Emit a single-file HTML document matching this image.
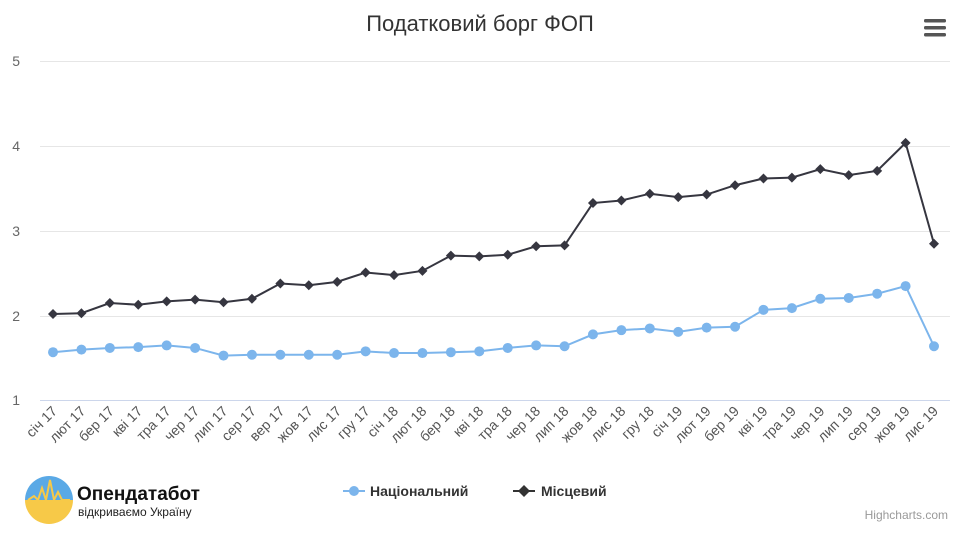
<!DOCTYPE html>
<html><head><meta charset="utf-8"><style>
body{margin:0;background:#fff;width:960px;height:533px;overflow:hidden;font-family:"Liberation Sans",sans-serif}
</style></head><body>
<svg width="960" height="533" xmlns="http://www.w3.org/2000/svg" font-family="Liberation Sans, sans-serif">
<text x="480" y="31" text-anchor="middle" font-size="22" fill="#333">Податковий борг ФОП</text>
<g fill="#555"><rect x="924" y="19" width="22" height="3.5" rx="1.5"/><rect x="924" y="26" width="22" height="3.5" rx="1.5"/><rect x="924" y="33" width="22" height="3.5" rx="1.5"/></g>
<g stroke="#e6e6e6" stroke-width="1">
<line x1="40" x2="950" y1="61.5" y2="61.5"/><line x1="40" x2="950" y1="146.5" y2="146.5"/><line x1="40" x2="950" y1="231.5" y2="231.5"/><line x1="40" x2="950" y1="316.5" y2="316.5"/>
</g>
<line x1="40" x2="950" y1="400.5" y2="400.5" stroke="#ccd6eb"/>
<g font-size="14" fill="#666" text-anchor="end">
<text x="20" y="66">5</text><text x="20" y="151">4</text><text x="20" y="236">3</text><text x="20" y="321">2</text><text x="20" y="405">1</text>
</g>
<g id="chart"></g>
<g font-size="14" font-weight="bold" fill="#333">
<line x1="343" x2="365" y1="491" y2="491" stroke="#7cb5ec" stroke-width="2"/><circle cx="354" cy="491" r="5" fill="#7cb5ec"/>
<text x="370" y="496">Національний</text>
<line x1="513" x2="535" y1="491" y2="491" stroke="#333" stroke-width="2"/><path d="M524 485 L530 491 L524 497 L518 491Z" fill="#333"/>
<text x="541" y="496">Місцевий</text>
</g>
<text x="948" y="519" text-anchor="end" font-size="12" fill="#999">Highcharts.com</text>
<g>
<path d="M25 500 A24 24 0 0 1 73 500 Z" fill="#5aa9e6"/>
<path d="M25 500 A24 24 0 0 0 73 500 Z" fill="#f7c948"/>
<path d="M28 500 L34 496 L38 500 L42 488 L46 500 L50 480 L54 500 L58 492 L62 500 L70 500" stroke="#f7c948" stroke-width="2" fill="none"/>
<text x="77" y="500" font-size="19" font-weight="bold" fill="#111">Опендатабот</text>
<text x="78" y="516" font-size="12" fill="#222">відкриваємо Україну</text>
</g>
</svg>
<script>
var d=[2.02,2.03,2.15,2.13,2.17,2.19,2.16,2.2,2.38,2.36,2.4,2.51,2.48,2.53,2.71,2.7,2.72,2.82,2.83,3.33,3.36,3.44,3.4,3.43,3.54,3.62,3.63,3.73,3.66,3.71,4.04,2.85];
var l=[1.57,1.6,1.62,1.63,1.65,1.62,1.53,1.54,1.54,1.54,1.54,1.58,1.56,1.56,1.57,1.58,1.62,1.65,1.64,1.78,1.83,1.85,1.81,1.86,1.87,2.07,2.09,2.2,2.21,2.26,2.35,1.64];
var lab=["січ 17","лют 17","бер 17","кві 17","тра 17","чер 17","лип 17","сер 17","вер 17","жов 17","лис 17","гру 17","січ 18","лют 18","бер 18","кві 18","тра 18","чер 18","лип 18","жов 18","лис 18","гру 18","січ 19","лют 19","бер 19","кві 19","тра 19","чер 19","лип 19","сер 19","жов 19","лис 19"];
function X(i){return 53+i*(881/31)}function Y(v){return 400.5-(v-1)*84.75}
var s="";
function line(a,c){return '<polyline fill="none" stroke="'+c+'" stroke-width="2" points="'+a.map(function(v,i){return X(i)+","+Y(v)}).join(" ")+'"/>'}
s+=line(l,"#7cb5ec");
l.forEach(function(v,i){s+='<circle cx="'+X(i)+'" cy="'+Y(v)+'" r="5" fill="#7cb5ec"/>'});
s+=line(d,"#363640");
d.forEach(function(v,i){var x=X(i),y=Y(v);s+='<path d="M'+x+' '+(y-5)+' L'+(x+5)+' '+y+' L'+x+' '+(y+5)+' L'+(x-5)+' '+y+'Z" fill="#363640"/>'});
lab.forEach(function(t,i){var x=X(i)+5,y=412;s+='<text font-size="14" fill="#555" text-anchor="end" transform="translate('+x+','+y+') rotate(-45)">'+t+'</text>'});
document.getElementById("chart").innerHTML=s;
</script>
</body></html>
